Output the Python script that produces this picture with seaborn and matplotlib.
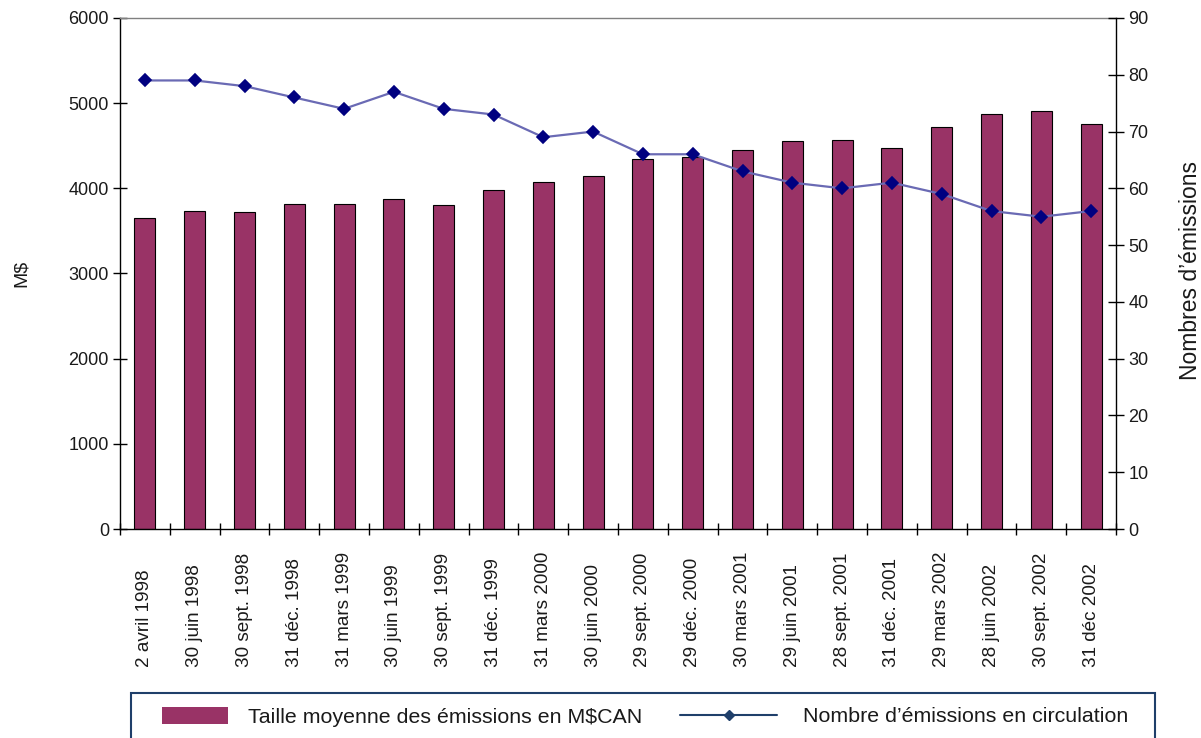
import numpy as np
import matplotlib
matplotlib.use("Agg")
import matplotlib.pyplot as plt
from matplotlib.patches import Rectangle, Patch
from matplotlib.lines import Line2D
import seaborn as sns

# Quarter-end dates
dates = [
    "2 avril 1998", "30 juin 1998", "30 sept. 1998", "31 déc. 1998",
    "31 mars 1999", "30 juin 1999", "30 sept. 1999", "31 déc. 1999",
    "31 mars 2000", "30 juin 2000", "29 sept. 2000", "29 déc. 2000",
    "30 mars 2001", "29 juin 2001", "28 sept. 2001", "31 déc. 2001",
    "29 mars 2002", "28 juin 2002", "30 sept. 2002", "31 déc 2002",
]

# Average issue size (M$CAN)
avg_size = [3655, 3735, 3720, 3815, 3812, 3870, 3805, 3985, 4080, 4140,
            4340, 4365, 4455, 4553, 4568, 4474, 4718, 4867, 4906, 4761]

# Number of issues outstanding
n_issues = [79, 79, 78, 76, 74, 77, 74, 73, 69, 70,
            66, 66, 63, 61, 60, 61, 59, 56, 55, 56]

left_ticks = [0, 1000, 2000, 3000, 4000, 5000, 6000]
right_ticks = [0, 10, 20, 30, 40, 50, 60, 70, 80, 90]

bar_label = "Taille moyenne des émissions en M$CAN"
line_label = "Nombre d\u2019émissions en circulation"

sns.set_style("white")
plt.rcParams["font.family"] = ["Liberation Sans", "DejaVu Sans"]

BAR_COLOR = "#993366"
LINE_COLOR = "#6a6ab4"
MARKER_COLOR = "#000080"
TEXT_COLOR = "#1a1a1a"

W, H = 1201, 738
fig = plt.figure(figsize=(W / 100, H / 100), dpi=100)
ax = fig.add_axes([120 / W, 1 - 529 / H, (1116 - 120) / W, (529 - 18) / H])

sns.barplot(x=dates, y=avg_size, ax=ax, color=BAR_COLOR, saturation=1,
            width=0.42, edgecolor="black", linewidth=0.8, errorbar=None)
ax.set_ylim(0, 6000)
ax.set_yticks(left_ticks)
ax.set_yticklabels([str(v) for v in left_ticks])

ax2 = ax.twinx()
sns.pointplot(x=dates, y=n_issues, ax=ax2, color=LINE_COLOR, errorbar=None,
              markers="D", markersize=6, linewidth=1.6)
for ln in ax2.lines:
    ln.set_markerfacecolor(MARKER_COLOR)
    ln.set_markeredgecolor(MARKER_COLOR)
ax2.set_ylim(0, 90)
ax2.set_yticks(right_ticks)
ax2.set_yticklabels([str(v) for v in right_ticks])
ax.set_xlim(-0.5, len(dates) - 0.5)
ax2.set_xlim(-0.5, len(dates) - 0.5)

# Spines
for s in ["left", "bottom"]:
    ax.spines[s].set_color("black")
    ax.spines[s].set_linewidth(1)
ax.spines["right"].set_visible(False)
ax.spines["top"].set_color("#808080")
ax.spines["top"].set_linewidth(1)
for s in ["left", "bottom", "top"]:
    ax2.spines[s].set_visible(False)
ax2.spines["right"].set_color("black")
ax2.spines["right"].set_linewidth(1)

# Ticks
ax.tick_params(axis="y", which="major", direction="inout", length=10,
               width=1, color="black", labelsize=13, pad=3, left=True,
               labelcolor=TEXT_COLOR)
ax2.tick_params(axis="y", which="major", direction="inout", length=12,
                width=1, color="black", labelsize=13, pad=3, right=True,
                labelcolor=TEXT_COLOR)
ax.set_xticks(np.arange(len(dates)))
ax.set_xticklabels(dates)
ax.set_xticks(np.arange(-0.5, len(dates), 1.0), minor=True)
ax.tick_params(axis="x", which="major", length=0, labelsize=13.6, pad=0,
               labelrotation=90, labelcolor=TEXT_COLOR)
ax.tick_params(axis="x", which="minor", direction="inout", length=9,
               width=1, color="black", bottom=True)
ax2.tick_params(axis="x", which="both", length=0, labelbottom=False)
for lab in ax.get_xticklabels():
    lab.set_verticalalignment("bottom")
    lab.set_y((529 - 667) / 511)

ax.set_xlabel("")
ax2.set_xlabel("")
ax.set_ylabel("M$", fontsize=14, color=TEXT_COLOR)
ax.yaxis.set_label_coords((30 - 120) / 996, 0.5)
ax2.set_ylabel("Nombres d\u2019émissions", fontsize=16.5, color=TEXT_COLOR)
ax2.yaxis.set_label_coords((1179 - 120) / 996, 0.505)
ax.grid(False)
ax2.grid(False)

# Legend frame and entries
frame = Rectangle((131 / W, -0.1), (1155 - 131) / W, (738 - 693) / H + 0.1,
                  transform=fig.transFigure, fill=False,
                  edgecolor="#1F3F6A", linewidth=1.5, clip_on=False)
fig.add_artist(frame)

fs = 15.4
em = fs * 100 / 72
h1 = Patch(facecolor=BAR_COLOR, edgecolor="none")
fig.legend(handles=[h1], labels=[bar_label], loc="center left",
           bbox_to_anchor=(162 / W, 1 - 717 / H), frameon=False,
           fontsize=fs, borderpad=0, borderaxespad=0,
           handlelength=66 / em, handleheight=18 / em,
           handletextpad=20 / em, labelcolor=TEXT_COLOR)
h2 = Line2D([], [], color="#1F3F6A", linewidth=1.5, marker="D",
            markersize=5, markerfacecolor="#1F3F6A", markeredgecolor="#1F3F6A")
fig.legend(handles=[h2], labels=[line_label], loc="center left",
           bbox_to_anchor=(680 / W, 1 - 717 / H), frameon=False,
           fontsize=fs, borderpad=0, borderaxespad=0,
           handlelength=97 / em, handletextpad=26 / em,
           labelcolor=TEXT_COLOR)

fig.savefig("out.png", dpi=100)
